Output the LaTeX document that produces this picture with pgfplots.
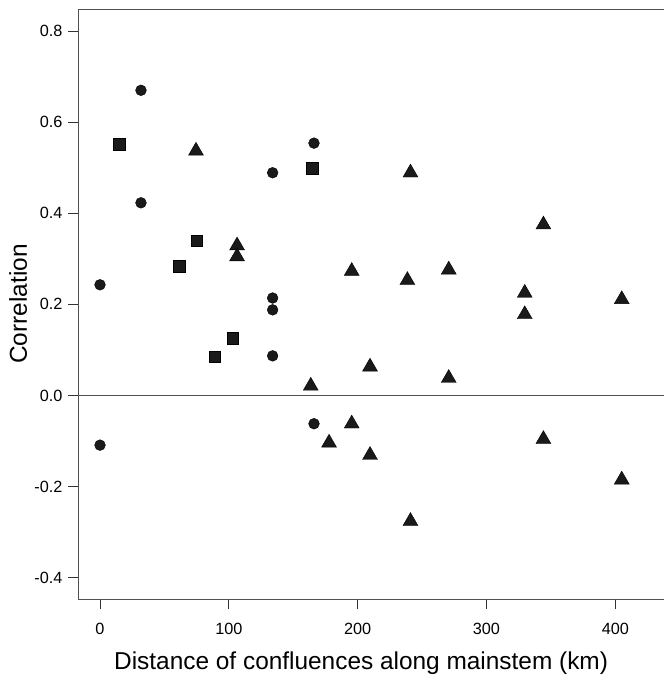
\documentclass[border=0pt]{standalone}
\usepackage{fontspec}
\setmainfont{Liberation Sans}
\usepackage{pgfplots}
\pgfplotsset{compat=1.18}
\definecolor{mk}{HTML}{1A1A1A}
\definecolor{ax}{HTML}{505050}

\begin{document}
\begin{tikzpicture}
\begin{axis}[
  scale only axis, width=586bp, height=590bp,
  xmin=-17.08, xmax=437.8, ymin=-0.4468, ymax=0.8485,
  axis x line=box, axis y line=left,
  axis line style={-, ax, line width=0.9bp},
  xtick={0,100,200,300,400},
  ytick={-0.4,-0.2,0,0.2,0.4,0.6,0.8},
  xtick pos=bottom, ytick pos=left,
  tick align=outside, major tick length=10bp,
  tick style={black!80, line width=0.9bp},
  /pgf/number format/assume math mode=true,
  yticklabel style={font=\fontsize{16.3}{19}\selectfont, xshift=-2bp},
  xticklabel style={font=\fontsize{16.3}{19}\selectfont, yshift=-11bp},
  y tick label style={/pgf/number format/.cd, fixed, fixed zerofill, precision=1},
  xlabel={Distance of confluences along mainstem (km)},
  ylabel={Correlation},
  every axis x label/.style={at={(axis description cs:0,0)}, anchor=base west,
    xshift=36bp, yshift=-70bp, inner sep=0pt, font=\fontsize{24.5}{28}\selectfont},
  every axis y label/.style={at={(axis description cs:0,0.5)}, xshift=-51bp, rotate=90, anchor=base,
    inner sep=0pt, font=\fontsize{24.5}{28}\selectfont},
  clip=false,
]
% zero reference line
\addplot[ax, line width=0.9bp, forget plot] coordinates {(-17.08,0) (437.8,0)};

% circles
\addplot[only marks, mark=*, mark size=5.4bp, mark options={draw=none, fill=mk}] coordinates {
  (0,0.243) (0,-0.109) (31.8,0.670) (31.8,0.423)
  (134,0.489) (134,0.214) (134,0.188) (134,0.087)
  (166.1,0.554) (166.1,-0.062)
};

% squares
\addplot[only marks, mark=square*, mark size=5.9bp, mark options={draw=none, fill=mk}] coordinates {
  (14.75,0.552) (61.3,0.283) (75,0.340) (89,0.085) (103,0.125) (164.6,0.499)
};

% triangles
\addplot[only marks, mark=triangle*, mark size=8.6bp, mark options={draw=none, fill=mk}] coordinates {
  (74.5,0.537) (106.4,0.329) (106.4,0.305) (163.6,0.021) (177.8,-0.104)
  (195.4,0.273) (195.4,-0.062) (209.6,0.063) (209.6,-0.131) (238.6,0.253)
  (241,0.489) (241,-0.276) (270.7,0.276) (270.7,0.038) (329.7,0.225)
  (329.7,0.178) (344.2,0.375) (344.2,-0.096) (405,0.211) (405,-0.185)
};
\end{axis}
\path ([xshift=-78bp,yshift=-76bp]current axis.south west) rectangle ([yshift=9bp]current axis.north east);
\end{tikzpicture}
\end{document}
